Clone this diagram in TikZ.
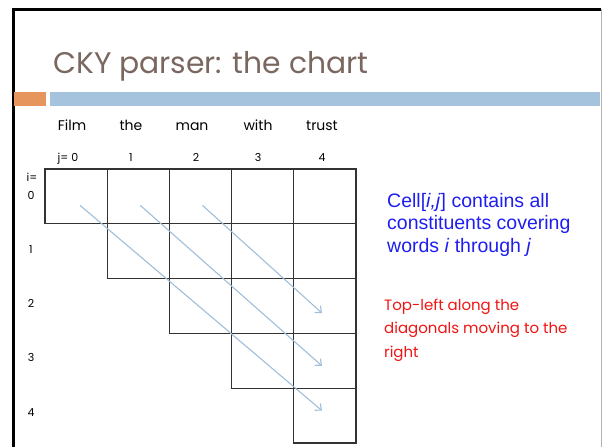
\documentclass[tikz,border=0pt]{standalone}
\usepackage{fontspec}
\usetikzlibrary{arrows.meta}
\setmainfont{Poppins}
\newfontfamily\arialfont{Liberation Sans}
\definecolor{titlebrown}{RGB}{122,104,96}
\definecolor{barorange}{RGB}{230,150,92}
\definecolor{barblue}{RGB}{165,195,220}
\definecolor{diagblue}{RGB}{160,190,218}
\definecolor{noteblue}{RGB}{30,30,240}
\definecolor{notered}{RGB}{240,20,20}
\tikzset{
  cell/.style={draw=black!80,line width=1.2pt,minimum width=62.2pt,minimum height=54.8pt,inner sep=0pt},
  word/.style={anchor=base,font=\fontsize{14}{16}\selectfont},
  idx/.style={anchor=base,font=\fontsize{11}{13}\selectfont},
  diag/.style={draw=diagblue,line width=1.1pt,-{Straight Barb[length=5pt,width=9pt]}}
}
\begin{document}
\begin{tikzpicture}[x=1pt,y=-1pt]
 \useasboundingbox (0,0) rectangle (602,447);
 % slide frame and header bars
 \draw[line width=3pt](13,447)--(13,9)--(601,9);
 \draw[gray!60,line width=0.8pt](601,9)--(601,447);
 \fill[barorange](14,92) rectangle (46,106);
 \fill[barblue](50,92) rectangle (600,106);
 \node[anchor=base west,inner sep=0pt,text=titlebrown,font=\fontsize{29.8}{34}\selectfont] (title) at (53,73) {CKY parser: the chart};
 % sentence and column indices
 \node[word] (w0) at (72,130) {Film};
 \node[word] (w1) at (131,130) {the};
 \node[word] (w2) at (192,130) {man};
 \node[word] (w3) at (258,130) {with};
 \node[word] (w4) at (322,130) {trust};
 \node[idx] (j0) at (68,161) {j= 0};
 \node[idx] (j1) at (131,161) {1};
 \node[idx] (j2) at (196,161) {2};
 \node[idx] (j3) at (258,161) {3};
 \node[idx] (j4) at (322,161) {4};
 % row indices
 \node[idx] (i0) at (32,181) {i=};
 \node[idx] (i0b) at (31,199) {0};
 \node[idx] (i1) at (31,253) {1};
 \node[idx] (i2) at (31,307) {2};
 \node[idx] (i3) at (31,361) {3};
 \node[idx] (i4) at (31,416) {4};
 % the chart, upper triangle
 \node[cell] (c00) at (76.1,196.4) {};
 \node[cell] (c01) at (138.3,196.4) {};
 \node[cell] (c02) at (200.5,196.4) {};
 \node[cell] (c03) at (262.7,196.4) {};
 \node[cell] (c04) at (324.9,196.4) {};
 \node[cell] (c11) at (138.3,251.2) {};
 \node[cell] (c12) at (200.5,251.2) {};
 \node[cell] (c13) at (262.7,251.2) {};
 \node[cell] (c14) at (324.9,251.2) {};
 \node[cell] (c22) at (200.5,306.0) {};
 \node[cell] (c23) at (262.7,306.0) {};
 \node[cell] (c24) at (324.9,306.0) {};
 \node[cell] (c33) at (262.7,360.8) {};
 \node[cell] (c34) at (324.9,360.8) {};
 \node[cell] (c44) at (324.9,415.6) {};
 % fill order along the diagonals
 \draw[diag]([shift={(4,9)}]c00.center)--([shift={(-3,-5)}]c44.center);
 \draw[diag]([shift={(2,9)}]c01.center)--([shift={(-3,5)}]c34.center);
 \draw[diag]([shift={(2,9)}]c02.center)--([shift={(-3,7)}]c24.center);
 % notes (base is the last line here)
 \node[anchor=base west,inner sep=0pt,align=left,text=noteblue,font=\arialfont\fontsize{19.5}{22.5}\selectfont] (cellnote) at (387,252)
   {Cell[\textit{i,j}] contains all\\constituents covering\\words \textit{i} through \textit{j}};
 \node[anchor=base west,inner sep=0pt,align=left,text=notered,font=\fontsize{15}{23.5}\selectfont] (ordernote) at (384,357)
   {Top-left along the\\diagonals moving to the\\right};
\end{tikzpicture}
\end{document}
